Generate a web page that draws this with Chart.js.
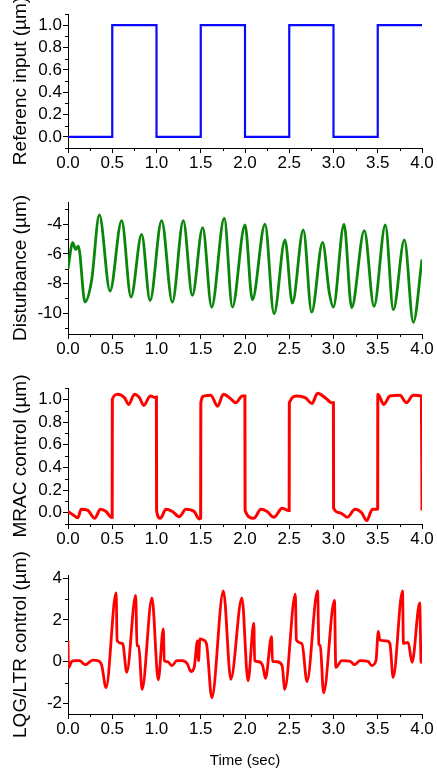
<!DOCTYPE html>
<html>
<head>
<meta charset="utf-8">
<script src="https://cdn.jsdelivr.net/npm/chart.js@4.4.1/dist/chart.umd.min.js"></script>
<style>
    body { margin: 0; background: #fff; }
    #wrap { position: relative; width: 437px; height: 773px; }
    #wrap canvas { position: absolute; left: 0; }
</style>
</head>
<body>
<div id="wrap">
    <canvas id="refChart" width="437" height="180" style="top:0px"></canvas>
    <canvas id="distChart" width="437" height="188" style="top:180px"></canvas>
    <canvas id="mracChart" width="437" height="184" style="top:368px"></canvas>
    <canvas id="lqgChart" width="437" height="221" style="top:552px"></canvas>
</div>
<script>
// time axis
const timeTicks = [0, 0.5, 1.0, 1.5, 2.0, 2.5, 3.0, 3.5, 4.0];

// reference input (held until next point)
const refTime = [0, 0.5, 1.0, 1.5, 2.0, 2.5, 3.0, 3.5, 4.0];
const refValue = [0, 1, 0, 1, 0, 1, 0, 1, 1];
const refTicks = [0, 0.2, 0.4, 0.6, 0.8, 1.0];

// disturbance, read at peaks / troughs
const distTime = [0, 0.053, 0.087, 0.117, 0.192, 0.267, 0.354, 0.475, 0.606, 0.712, 0.832, 0.927,
    1.058, 1.179, 1.303, 1.405, 1.522, 1.623, 1.766, 1.857, 2.0, 2.083, 2.226, 2.328, 2.452, 2.535,
    2.659, 2.753, 2.877, 2.953, 2.998, 3.119, 3.205, 3.348, 3.458, 3.586, 3.676, 3.801, 3.902, 4.0];
const distValue = [-7.0, -5.24, -5.70, -5.47, -9.25, -7.78, -3.37, -8.50, -3.75, -8.91, -4.68, -9.14,
    -3.75, -9.25, -3.75, -8.80, -4.23, -9.59, -3.59, -9.59, -4.05, -9.09, -4.0, -10.04, -5.06, -9.32,
    -4.38, -9.93, -5.22, -8.64, -9.59, -4.0, -9.63, -4.43, -9.54, -4.05, -9.77, -5.06, -10.61, -6.38];
const distTicks = [-10, -8, -6, -4];

// MRAC control output
const mracTime = [0, 0.06, 0.11, 0.15, 0.225, 0.30, 0.368, 0.43, 0.488, 0.499,
    0.501, 0.563, 0.638, 0.687, 0.75, 0.807, 0.856, 0.93, 0.987, 0.999,
    1.001, 1.043, 1.107, 1.18, 1.257, 1.332, 1.426, 1.482, 1.499,
    1.501, 1.538, 1.613, 1.69, 1.756, 1.838, 1.895, 1.97, 1.999,
    2.001, 2.10, 2.18, 2.25, 2.326, 2.42, 2.487, 2.499,
    2.501, 2.59, 2.68, 2.757, 2.82, 2.906, 2.98, 2.999,
    3.001, 3.07, 3.157, 3.243, 3.318, 3.375, 3.44, 3.499,
    3.501, 3.569, 3.637, 3.75, 3.824, 3.9, 3.993, 4.0];
const mracValue = [0.01, -0.02, -0.045, 0.03, 0.02, -0.05, 0.03, 0.01, -0.04, -0.04,
    1.0, 1.045, 1.015, 0.955, 1.045, 1.015, 0.946, 1.03, 1.015, 1.02,
    0.02, -0.05, 0.03, 0.01, -0.035, 0.03, 0.01, -0.055, -0.05,
    0.97, 1.03, 1.036, 0.94, 1.045, 1.006, 0.97, 1.03, 1.03,
    0.02, -0.05, 0.03, 0.01, -0.04, 0.04, 0.02, 0.02,
    0.97, 1.03, 1.015, 0.964, 1.053, 1.015, 0.97, 0.97,
    0.04, 0.0, -0.04, 0.03, 0.0, -0.07, 0.03, 0.03,
    1.045, 0.955, 1.03, 1.036, 0.97, 1.036, 1.03, 0.02];
const mracTicks = [0, 0.2, 0.4, 0.6, 0.8, 1.0];

// LQG/LTR control output
const lqgTime = [0, 0.005, 0.04, 0.075, 0.13, 0.195, 0.28, 0.34, 0.38, 0.43,
    0.544, 0.555, 0.61, 0.62, 0.664, 0.765, 0.78, 0.80, 0.837, 0.949,
    1.02, 1.077, 1.088, 1.126, 1.174, 1.23, 1.29, 1.35, 1.388, 1.426,
    1.463, 1.475, 1.49, 1.53, 1.565, 1.625, 1.756, 1.84, 1.965, 2.034,
    2.10, 2.109, 2.157, 2.2, 2.232, 2.30, 2.31, 2.363, 2.42, 2.449,
    2.569, 2.58, 2.644, 2.70, 2.82, 2.835, 2.85, 2.888, 3.011, 3.026,
    3.094, 3.19, 3.236, 3.30, 3.39, 3.43, 3.48, 3.506, 3.524, 3.6,
    3.637, 3.674, 3.78, 3.79, 3.843, 3.888, 3.974, 3.99, 4.0];
const lqgValue = [1.0, -0.3, 0.0, 0.05, 0.05, -0.14, 0.08, 0.05, -0.16, -1.24,
    3.29, 1.0, 0.88, 0.85, -0.51, 3.18, 0.77, 0.75, -1.32, 3.05,
    -0.87, 1.57, 0.05, 0.0, -0.19, 0.05, 0.05, -0.11, -0.47, -0.27,
    1.0, 0.05, 1.09, 1.04, 0.85, -1.72, 3.39, -0.84, 3.05, -0.92,
    1.85, 0.05, 0.0, -0.19, -0.79, 1.2, 0.02, 0.0, -0.19, -1.32,
    3.23, 1.04, 0.88, -0.95, 3.39, 0.82, 0.78, -1.48, 2.94, -0.27,
    0.05, 0.02, -0.14, 0.05, 0.02, -0.18, 0.05, 1.45, 1.04, 1.0,
    0.88, -0.75, 3.39, 0.88, 0.93, -0.03, 2.81, -0.03, 0.0];
const lqgTicks = [-2, -1, 0, 1, 2, 3, 4];

document.addEventListener("DOMContentLoaded", function () {
    const fontFamily = "'Liberation Sans', Arial, sans-serif";
    const plotLeft = 68;
    const plotRight = 422;

    // small ticks halfway between the labelled ones
    const minorTicks = {
        id: 'minorTicks',
        afterDraw(chart) {
            const ctx = chart.ctx;
            ctx.save();
            ctx.strokeStyle = '#000';
            ctx.lineWidth = 1;
            ['x', 'y'].forEach(function (id) {
                const s = chart.scales[id];
                const major = s.ticks.map(t => t.value);
                const step = major[1] - major[0];
                const vals = [];
                for (let v = major[0] - step / 2; v >= s.min - 1e-9; v -= step) vals.push(v);
                for (let v = major[0] + step / 2; v <= s.max + 1e-9; v += step) vals.push(v);
                ctx.beginPath();
                vals.forEach(function (v) {
                    const p = Math.round(s.getPixelForValue(v)) + 0.5;
                    if (id === 'x') {
                        ctx.moveTo(p, s.top);
                        ctx.lineTo(p, s.top + 3);
                    } else {
                        ctx.moveTo(s.right - 3, p);
                        ctx.lineTo(s.right, p);
                    }
                });
                ctx.stroke();
            });
            ctx.restore();
        }
    };

    function makePanel(id, cfg) {
        const canvas = document.getElementById(id);
        const points = cfg.times.map((t, i) => ({ x: t, y: cfg.values[i] }));
        return new Chart(canvas, {
            type: 'line',
            data: {
                datasets: [{
                    data: points,
                    borderColor: cfg.color,
                    borderWidth: cfg.width,
                    pointRadius: 0,
                    fill: false,
                    stepped: cfg.stepped || false,
                    cubicInterpolationMode: cfg.smooth ? 'monotone' : 'default',
                    tension: 0
                }]
            },
            options: {
                responsive: false,
                animation: false,
                events: [],
                layout: { padding: { top: cfg.padTop, right: 437 - plotRight, left: 0, bottom: 0 } },
                plugins: { legend: { display: false }, tooltip: { enabled: false } },
                scales: {
                    x: {
                        type: 'linear',
                        min: 0,
                        max: 4,
                        afterBuildTicks: s => { s.ticks = timeTicks.map(v => ({ value: v })); },
                        afterFit: s => { s.height = cfg.xHeight; },
                        border: { display: true, color: '#000', width: 1 },
                        grid: { drawOnChartArea: false, drawTicks: true, tickLength: 5, color: '#000' },
                        ticks: {
                            color: '#000',
                            padding: 0,
                            maxRotation: 0,
                            font: { family: fontFamily, size: 17 },
                            callback: v => v.toFixed(1)
                        },
                        title: {
                            display: !!cfg.xTitle,
                            text: cfg.xTitle || '',
                            color: '#000',
                            font: { family: fontFamily, size: 15 },
                            padding: { top: 0, bottom: 3 }
                        }
                    },
                    y: {
                        min: cfg.yMin,
                        max: cfg.yMax,
                        afterBuildTicks: s => { s.ticks = cfg.yTicks.map(v => ({ value: v })); },
                        afterFit: s => { s.width = plotLeft; },
                        border: { display: true, color: '#000', width: 1 },
                        grid: { drawOnChartArea: false, drawTicks: true, tickLength: 5, color: '#000' },
                        ticks: {
                            color: '#000',
                            padding: 1,
                            font: { family: fontFamily, size: 17 },
                            callback: v => cfg.decimals ? v.toFixed(cfg.decimals) : String(v)
                        },
                        title: {
                            display: true,
                            text: cfg.yTitle,
                            color: '#000',
                            font: { family: fontFamily, size: 19 },
                            padding: { top: 9, bottom: 0 }
                        }
                    }
                }
            },
            plugins: [minorTicks]
        });
    }

    // 1. Reference input
    makePanel('refChart', {
        times: refTime, values: refValue, color: '#0a0aff', width: 2.2, stepped: 'before',
        yMin: -0.1, yMax: 1.1, yTicks: refTicks, decimals: 1,
        yTitle: 'Referenc input (\u00b5m)', padTop: 14, xHeight: 32
    });

    // 2. Disturbance
    makePanel('distChart', {
        times: distTime, values: distValue, color: '#0a870a', width: 2.8, smooth: true,
        yMin: -11.4, yMax: -2.5, yTicks: distTicks, decimals: 0,
        yTitle: 'Disturbance (\u00b5m)', padTop: 22, xHeight: 34
    });

    // 3. MRAC control
    makePanel('mracChart', {
        times: mracTime, values: mracValue, color: '#ff0000', width: 3, smooth: true,
        yMin: -0.1, yMax: 1.1, yTicks: mracTicks, decimals: 1,
        yTitle: 'MRAC control (\u00b5m)', padTop: 20, xHeight: 28
    });

    // 4. LQG/LTR control
    makePanel('lqgChart', {
        times: lqgTime, values: lqgValue, color: '#ff0000', width: 2.8, smooth: true,
        yMin: -2.5, yMax: 4.15, yTicks: lqgTicks, decimals: 0,
        yTitle: 'LQG/LTR control (\u00b5m)', padTop: 23, xHeight: 59,
        xTitle: 'Time (sec)'
    });
});
</script>
</body>
</html>
